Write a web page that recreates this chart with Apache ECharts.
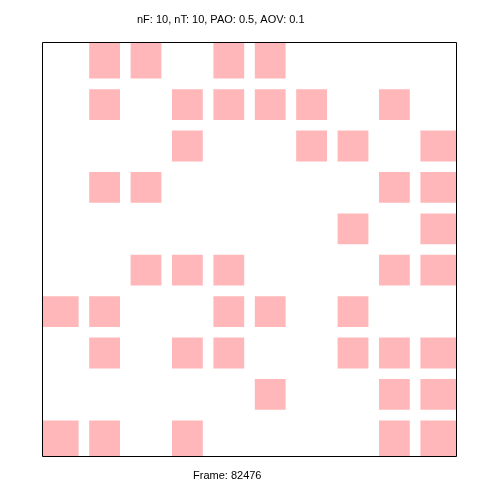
<!DOCTYPE html>
<html>
<head>
<meta charset="utf-8">
<script src="https://cdn.jsdelivr.net/npm/echarts@6/dist/echarts.min.js"></script>
<style>html,body{margin:0;padding:0;background:#fff;}#c{width:500px;height:500px;}</style>
</head>
<body>
<div id="c"></div>
<script>
// Grid of 10 x 10 cells; 1 = filled (row 0 at top)
const nCols = 10;
const nRows = 10;
const cellMatrix = [
  [0,1,1,0,1,1,0,0,0,0],
  [0,1,0,1,1,1,1,0,1,0],
  [0,0,0,1,0,0,1,1,0,1],
  [0,1,1,0,0,0,0,0,1,1],
  [0,0,0,0,0,0,0,1,0,1],
  [0,0,1,1,1,0,0,0,1,1],
  [1,1,0,0,1,1,0,1,0,0],
  [0,1,0,1,1,0,0,1,1,1],
  [0,0,0,0,0,1,0,0,1,1],
  [1,1,0,1,0,0,0,0,1,1]
];
const titleText = 'nF: 10, nT: 10, PAO: 0.5, AOV: 0.1';
const footerText = 'Frame: 82476';

const data = [];
cellMatrix.forEach((row, r) => row.forEach((v, c) => { if (v) data.push([c, r]); }));

const inset = 0.128;
const chart = echarts.init(document.getElementById('c'), null, {renderer: 'canvas'});
chart.setOption({
  animation: false,
  backgroundColor: '#ffffff',
  grid: {left: 42.5, top: 42.5, width: 414, height: 414, show: true, z: 5, borderColor: '#000', borderWidth: 1, backgroundColor: 'transparent'},
  xAxis: {type: 'value', min: 0, max: nCols, show: false},
  yAxis: {type: 'value', min: 0, max: nRows, inverse: true, show: false},
  series: [{
    type: 'custom',
    data: data,
    clip: true,
    z: 1,
    renderItem: function (params, api) {
      const c = api.value(0), r = api.value(1);
      const p0 = api.coord([c, r]);
      const p1 = api.coord([c + 1, r + 1]);
      const w = p1[0] - p0[0], h = p1[1] - p0[1];
      let x0 = p0[0] + w * inset, x1 = p1[0] - w * inset;
      let y0 = p0[1] + h * inset, y1 = p1[1] - h * inset;
      if (c === 0) x0 = p0[0];
      if (c === nCols - 1) x1 = p1[0];
      if (r === 0) y0 = p0[1];
      if (r === nRows - 1) y1 = p1[1];
      return {type: 'rect', shape: {x: x0, y: y0, width: x1 - x0, height: y1 - y0}, style: {fill: '#ffb7b9'}};
    }
  }],
  graphic: [
    {type: 'text', left: 137, top: 14, style: {text: titleText, fill: '#000', font: '11px "Liberation Sans", Arial, sans-serif'}},
    {type: 'text', left: 193, top: 470, style: {text: footerText, fill: '#000', font: '11px "Liberation Sans", Arial, sans-serif'}}
  ]
});
</script>
</body>
</html>
